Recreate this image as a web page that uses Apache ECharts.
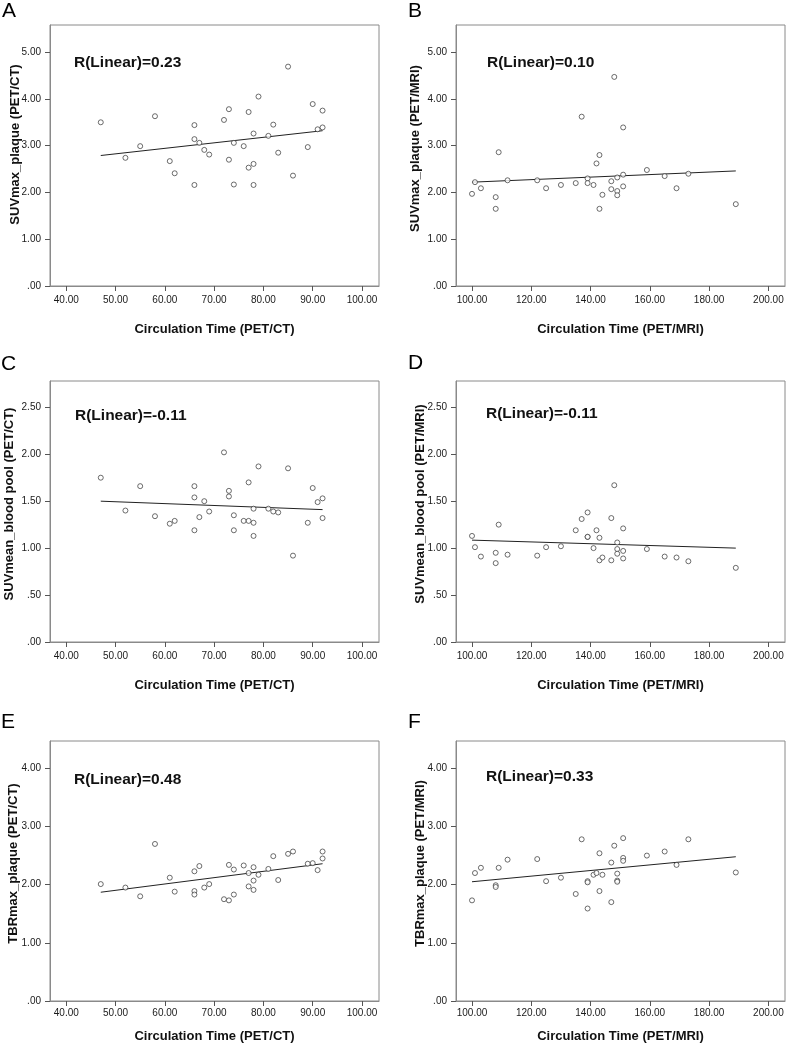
<!DOCTYPE html>
<html>
<head>
<meta charset="utf-8">
<script src="https://cdn.jsdelivr.net/npm/echarts@6/dist/echarts.min.js"></script>
<style>
html,body{margin:0;padding:0;background:#fff;}
#chart{width:787px;height:1044px;}
</style>
</head>
<body>
<div id="chart"></div>
<script>
// ---------- DATA ----------
const panelLetters = ['A', 'B', 'C', 'D', 'E', 'F'];
const rTexts = ['R(Linear)=0.23', 'R(Linear)=0.10', 'R(Linear)=-0.11', 'R(Linear)=-0.11', 'R(Linear)=0.48', 'R(Linear)=0.33'];
const xTitles = ['Circulation Time (PET/CT)', 'Circulation Time (PET/MRI)', 'Circulation Time (PET/CT)', 'Circulation Time (PET/MRI)', 'Circulation Time (PET/CT)', 'Circulation Time (PET/MRI)'];
const yTitles = ['SUVmax_plaque (PET/CT)', 'SUVmax_plaque (PET/MRI)', 'SUVmean_blood pool (PET/CT)', 'SUVmean_blood pool (PET/MRI)', 'TBRmax_plaque (PET/CT)', 'TBRmax_plaque (PET/MRI)'];

const xTicksCT = [40, 50, 60, 70, 80, 90, 100];
const xTicksMRI = [100, 120, 140, 160, 180, 200];
const yTicksSUVmax = [0, 1, 2, 3, 4, 5];
const yTicksBlood = [0, 0.5, 1, 1.5, 2, 2.5];
const yTicksTBR = [0, 1, 2, 3, 4];

const pointsA = [[47,3.50],[52,2.74],[55,2.99],[58,3.63],[61,2.67],[62,2.41],[66,3.44],[66,3.14],[66,2.16],[67,3.06],[68,2.91],[69,2.81],[72,3.55],[73,3.78],[73,2.70],[74,3.06],[74,2.17],[76,2.99],[77,3.72],[77,2.53],[78,3.26],[78,2.61],[78,2.16],[79,4.05],[81,3.21],[82,3.45],[83,2.85],[85,4.69],[86,2.36],[89,2.97],[90,3.89],[91,3.35],[92,3.75],[92,3.39]];
const fitA = [[47,2.79],[92,3.32]];

const pointsB = [[100,1.97],[101,2.22],[103,2.09],[108,1.90],[108,1.65],[109,2.86],[112,2.26],[122,2.26],[125,2.09],[130,2.16],[135,2.20],[137,3.62],[139,2.30],[139,2.20],[141,2.16],[142,2.62],[143,2.80],[143,1.65],[144,1.95],[147,2.24],[147,2.07],[148,4.47],[149,2.32],[149,2.03],[149,1.94],[151,3.39],[151,2.38],[151,2.13],[159,2.48],[165,2.35],[169,2.09],[173,2.40],[189,1.75]];
const fitB = [[100,2.22],[189,2.46]];

const pointsC = [[47,1.75],[52,1.40],[55,1.66],[58,1.34],[61,1.26],[62,1.29],[66,1.66],[66,1.54],[66,1.19],[67,1.33],[68,1.50],[69,1.39],[72,2.02],[73,1.61],[73,1.55],[74,1.35],[74,1.19],[76,1.29],[77,1.70],[77,1.29],[78,1.42],[78,1.27],[78,1.13],[79,1.87],[81,1.42],[82,1.39],[83,1.38],[85,1.85],[86,0.92],[89,1.27],[90,1.64],[91,1.49],[92,1.53],[92,1.32]];
const fitC = [[47,1.50],[92,1.41]];

const pointsD = [[100,1.13],[101,1.01],[103,0.91],[108,0.95],[108,0.84],[109,1.25],[112,0.93],[122,0.92],[125,1.01],[130,1.02],[135,1.19],[137,1.31],[139,1.38],[139,1.12],[139,1.12],[141,1.00],[142,1.19],[143,1.11],[143,0.87],[144,0.90],[147,1.32],[147,0.87],[148,1.67],[149,1.06],[149,0.99],[149,0.94],[151,1.21],[151,0.97],[151,0.89],[159,0.99],[165,0.91],[169,0.90],[173,0.86],[189,0.79]];
const fitD = [[100,1.085],[189,1.00]];

const pointsE = [[47,2.01],[52,1.95],[55,1.80],[58,2.70],[61,2.12],[62,1.88],[66,2.23],[66,1.89],[66,1.83],[67,2.32],[68,1.95],[69,2.01],[72,1.75],[73,2.34],[73,1.73],[74,2.26],[74,1.83],[76,2.33],[77,2.20],[77,1.97],[78,2.30],[78,2.07],[78,1.91],[79,2.17],[81,2.27],[82,2.49],[83,2.08],[85,2.53],[86,2.57],[89,2.36],[90,2.37],[91,2.25],[92,2.57],[92,2.45]];
const fitE = [[47,1.87],[92,2.36]];

const pointsF = [[100,1.73],[101,2.20],[103,2.29],[108,1.99],[108,1.96],[109,2.29],[112,2.43],[122,2.44],[125,2.06],[130,2.12],[135,1.84],[137,2.78],[139,2.06],[139,2.04],[139,1.59],[141,2.17],[142,2.20],[143,2.54],[143,1.89],[144,2.17],[147,2.38],[147,1.70],[148,2.67],[149,2.19],[149,2.07],[149,2.05],[151,2.80],[151,2.46],[151,2.41],[159,2.50],[165,2.57],[169,2.34],[173,2.78],[189,2.21]];
const fitF = [[100,2.05],[189,2.48]];

// ---------- LAYOUT ----------
const FONT = 'Liberation Sans, Arial, sans-serif';
const panels = [
  {pts: pointsA, fit: fitA, xt: xTicksCT,  yt: yTicksSUVmax, xr: [36.7, 103.45], yr: [0, 5.58], g: {left: 50,  top: 25},  yGap: 28.5, yPad: 22, xGap: 37, lblM: 9, letter: [2, 11.5],   r: [74, 63]},
  {pts: pointsB, fit: fitB, xt: xTicksMRI, yt: yTicksSUVmax, xr: [94.6, 205.6],  yr: [0, 5.58], g: {left: 456, top: 25},  yGap: 34, yPad: 14, xGap: 37, lblM: 9, letter: [408, 11],   r: [487, 63]},
  {pts: pointsC, fit: fitC, xt: xTicksCT,  yt: yTicksBlood,  xr: [36.7, 103.45], yr: [0, 2.78], g: {left: 50,  top: 381}, yGap: 34, yPad: 15, xGap: 37, lblM: 9, letter: [1, 364],    r: [75, 416]},
  {pts: pointsD, fit: fitD, xt: xTicksMRI, yt: yTicksBlood,  xr: [94.6, 205.6],  yr: [0, 2.78], g: {left: 456, top: 381}, yGap: 29, yPad: 15, xGap: 37, lblM: 9, letter: [408, 363],  r: [486, 414]},
  {pts: pointsE, fit: fitE, xt: xTicksCT,  yt: yTicksTBR,    xr: [36.7, 103.45], yr: [0, 4.47], g: {left: 50,  top: 741}, yGap: 30, yPad: 15, xGap: 29, lblM: 7, letter: [1, 722],    r: [74, 780]},
  {pts: pointsF, fit: fitF, xt: xTicksMRI, yt: yTicksTBR,    xr: [94.6, 205.6],  yr: [0, 4.47], g: {left: 456, top: 741}, yGap: 29, yPad: 15, xGap: 29, lblM: 7, letter: [408, 722],  r: [486, 777]}
];

const fmtX = v => v.toFixed(2);
const fmtY = v => v.toFixed(2).replace(/^0\./, '.');

const grid = [], xAxis = [], yAxis = [], series = [], graphic = [];
panels.forEach((p, i) => {
  grid.push({left: p.g.left, top: p.g.top, width: 329, height: 261, show: true, borderColor: '#8a8a8a', borderWidth: 1, backgroundColor: '#fff'});
  xAxis.push({
    type: 'value', gridIndex: i, min: p.xr[0], max: p.xr[1],
    splitLine: {show: false},
    axisLine: {show: true, onZero: false, lineStyle: {color: '#8a8a8a', width: 1}},
    axisTick: {show: true, length: 5, lineStyle: {color: '#555'}, customValues: p.xt},
    axisLabel: {color: '#1a1a1a', fontSize: 10, fontFamily: FONT, margin: p.lblM, formatter: fmtX, customValues: p.xt},
    name: xTitles[i], nameLocation: 'middle', nameGap: p.xGap, nameMoveOverlap: false,
    nameTextStyle: {fontFamily: FONT, fontSize: 13, fontWeight: 'bold', color: '#111'}
  });
  yAxis.push({
    type: 'value', gridIndex: i, min: p.yr[0], max: p.yr[1],
    splitLine: {show: false},
    axisLine: {show: true, onZero: false, lineStyle: {color: '#8a8a8a', width: 1}},
    axisTick: {show: true, length: 5, lineStyle: {color: '#555'}, customValues: p.yt},
    axisLabel: {color: '#1a1a1a', fontSize: 10, fontFamily: FONT, margin: 9, formatter: fmtY, customValues: p.yt},
    name: yTitles[i], nameLocation: 'middle', nameGap: p.yGap, nameMoveOverlap: false,
    nameTextStyle: {fontFamily: FONT, fontSize: 13, fontWeight: 'bold', color: '#111', padding: [0, 0, 0, p.yPad]}
  });
  series.push({
    type: 'scatter', xAxisIndex: i, yAxisIndex: i, data: p.pts,
    symbol: 'circle', symbolSize: 5,
    itemStyle: {color: '#fff', borderColor: '#333', borderWidth: 0.9},
    silent: true, animation: false, z: 3
  });
  series.push({
    type: 'line', xAxisIndex: i, yAxisIndex: i, data: p.fit,
    showSymbol: false, lineStyle: {color: '#222', width: 1},
    silent: true, animation: false, z: 2
  });
  graphic.push({type: 'text', x: p.letter[0], y: p.letter[1], style: {text: panelLetters[i], font: '21px ' + FONT, fill: '#000', textVerticalAlign: 'middle'}});
  graphic.push({type: 'text', x: p.r[0], y: p.r[1], style: {text: rTexts[i], font: 'bold 15.5px ' + FONT, fill: '#111', textVerticalAlign: 'middle'}, z: 10});
});

const chart = echarts.init(document.getElementById('chart'), null, {renderer: 'canvas'});
chart.setOption({animation: false, backgroundColor: '#fff', grid, xAxis, yAxis, series, graphic});
</script>
</body>
</html>
